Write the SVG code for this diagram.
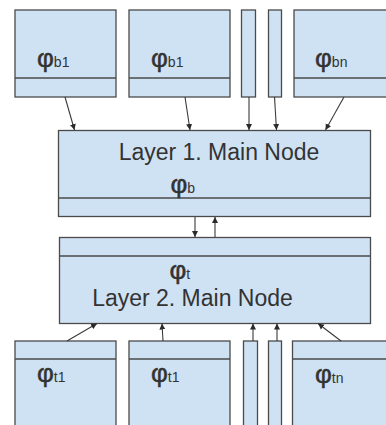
<svg xmlns="http://www.w3.org/2000/svg" width="386" height="425" viewBox="0 0 386 425">
  <style>
    .box { fill: #cfe2f3; stroke: #4a4a4a; stroke-width: 1.3; }
    .div { stroke: #4a4a4a; stroke-width: 1.3; fill: none; }
    .lbl { font-family: "Liberation Sans", Arial, sans-serif; fill: #333333; }
    .phi { font-size: 26px; stroke: #333333; stroke-width: 0.5; }
    .sub { font-size: 14px; }
    .main { font-size: 23px; }
    .edge { stroke: #3a3a3a; stroke-width: 1.1; fill: none; marker-end: url(#arrow); }
  </style>
  <defs>
    <marker id="arrow" markerUnits="userSpaceOnUse" markerWidth="7" markerHeight="7" refX="6" refY="3.5" orient="auto">
      <path d="M0,0.5 L6,3.5 L0,6.5 Z" fill="#2a2a2a"/>
    </marker>
  </defs>

  <rect width="386" height="425" fill="#ffffff"/>

  <!-- upper input nodes -->
  <g id="top-b1a">
    <rect class="box" x="15" y="10" width="101" height="87"/>
    <line class="div" x1="15" y1="78" x2="116" y2="78"/>
    <text class="lbl" x="37" y="67"><tspan class="phi">φ</tspan><tspan class="sub">b1</tspan></text>
  </g>
  <g id="top-b1b">
    <rect class="box" x="129" y="10" width="101" height="87"/>
    <line class="div" x1="129" y1="78" x2="230" y2="78"/>
    <text class="lbl" x="151" y="67"><tspan class="phi">φ</tspan><tspan class="sub">b1</tspan></text>
  </g>
  <g id="top-thin1">
    <rect class="box" x="241.5" y="10" width="14" height="87"/>
  </g>
  <g id="top-thin2">
    <rect class="box" x="268.5" y="10" width="13" height="87"/>
  </g>
  <g id="top-bn">
    <rect class="box" x="294" y="10" width="100" height="87"/>
    <line class="div" x1="294" y1="78" x2="394" y2="78"/>
    <text class="lbl" x="315" y="67"><tspan class="phi">φ</tspan><tspan class="sub">bn</tspan></text>
  </g>

  <!-- layer 1 main node -->
  <g id="layer1">
    <rect class="box" x="58.5" y="130.5" width="312" height="86"/>
    <line class="div" x1="58.5" y1="198" x2="370.5" y2="198"/>
    <text class="lbl main" x="219" y="160" text-anchor="middle">Layer 1. Main Node</text>
    <text class="lbl" x="170.5" y="193"><tspan class="phi">φ</tspan><tspan class="sub">b</tspan></text>
  </g>

  <!-- layer 2 main node -->
  <g id="layer2">
    <rect class="box" x="59.5" y="237.5" width="311" height="86"/>
    <line class="div" x1="59.5" y1="256" x2="370.5" y2="256"/>
    <text class="lbl" x="169.5" y="278.5"><tspan class="phi">φ</tspan><tspan class="sub">t</tspan></text>
    <text class="lbl main" x="192.5" y="306" text-anchor="middle">Layer 2. Main Node</text>
  </g>

  <!-- lower input nodes -->
  <g id="bot-t1a">
    <rect class="box" x="15" y="341" width="101" height="100"/>
    <line class="div" x1="15" y1="359" x2="116" y2="359"/>
    <text class="lbl" x="37" y="381.5"><tspan class="phi">φ</tspan><tspan class="sub">t1</tspan></text>
  </g>
  <g id="bot-t1b">
    <rect class="box" x="129" y="341" width="101" height="100"/>
    <line class="div" x1="129" y1="359" x2="230" y2="359"/>
    <text class="lbl" x="151" y="381.5"><tspan class="phi">φ</tspan><tspan class="sub">t1</tspan></text>
  </g>
  <g id="bot-thin1">
    <rect class="box" x="243.5" y="341" width="14" height="100"/>
  </g>
  <g id="bot-thin2">
    <rect class="box" x="268.5" y="341" width="13" height="100"/>
  </g>
  <g id="bot-tn">
    <rect class="box" x="292.5" y="341" width="100" height="100"/>
    <line class="div" x1="292.5" y1="359" x2="392.5" y2="359"/>
    <text class="lbl" x="315" y="382.5"><tspan class="phi">φ</tspan><tspan class="sub">tn</tspan></text>
  </g>

  <!-- connectors -->
  <g id="connectors">
    <line class="edge" x1="65" y1="97" x2="74.5" y2="130"/>
    <line class="edge" x1="185" y1="97" x2="190" y2="130"/>
    <line class="edge" x1="249" y1="97" x2="249" y2="130"/>
    <line class="edge" x1="274.5" y1="97" x2="276.5" y2="130"/>
    <line class="edge" x1="344" y1="97" x2="325.5" y2="130"/>

    <line class="edge" x1="195" y1="217" x2="195" y2="237"/>
    <line class="edge" x1="215" y1="237" x2="215" y2="217"/>

    <line class="edge" x1="67" y1="341" x2="97" y2="323.5"/>
    <line class="edge" x1="163" y1="341" x2="162" y2="323.5"/>
    <line class="edge" x1="253" y1="341" x2="253" y2="323.5"/>
    <line class="edge" x1="277" y1="341" x2="277" y2="323.5"/>
    <line class="edge" x1="341" y1="341" x2="318" y2="323.5"/>
  </g>
</svg>
